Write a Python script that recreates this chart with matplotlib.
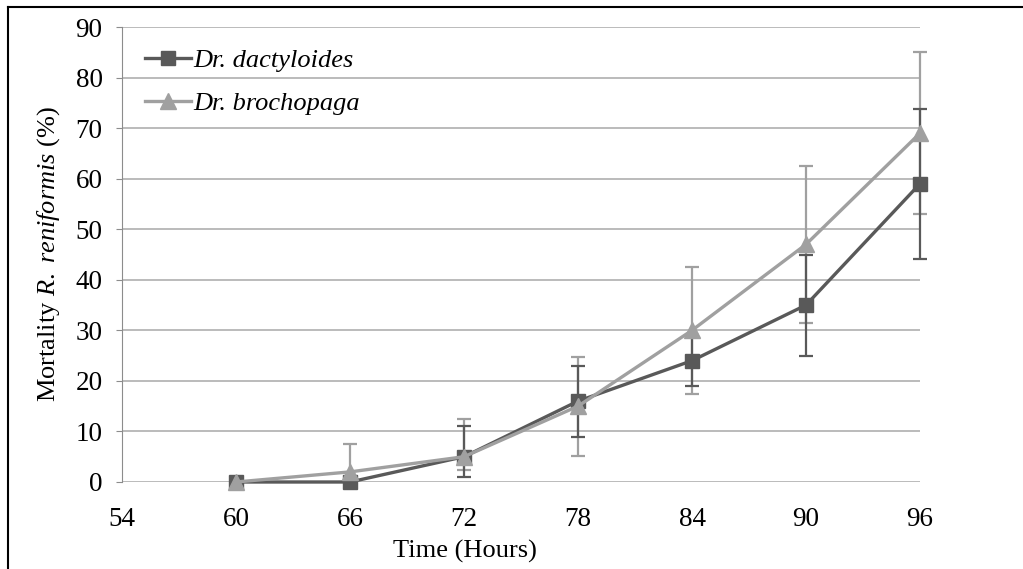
import matplotlib
matplotlib.use("Agg")
import matplotlib.pyplot as plt
from matplotlib.lines import Line2D
from matplotlib.patches import Rectangle

plt.rcParams['font.family'] = ['Liberation Serif', 'DejaVu Serif']
plt.rcParams['mathtext.fontset'] = 'custom'
plt.rcParams['mathtext.rm'] = 'Liberation Serif'
plt.rcParams['mathtext.it'] = 'Liberation Serif:italic'

hours = [60, 66, 72, 78, 84, 90, 96]
dact = [0, 0, 5, 16, 24, 35, 59]
dact_err_low = [0, 0, 4, 7, 5, 10, 14.8]
dact_err_high = [0, 0, 6, 7, 5, 10, 14.8]
broch = [0, 2, 5, 15, 30, 47, 69]
broch_err_low = [0, 5.5, 2.7, 9.8, 12.6, 15.6, 16]
broch_err_high = [0, 5.5, 7.5, 9.8, 12.6, 15.6, 16]
xticks = [54, 60, 66, 72, 78, 84, 90, 96]
yticks = [0, 10, 20, 30, 40, 50, 60, 70, 80, 90]

dark = '#595959'
light = '#A0A0A0'

fig = plt.figure(figsize=(10.23, 5.69), dpi=100)
ax = fig.add_axes([0.1193, 0.1529, 0.7800, 0.7996])

clip = Rectangle((-0.1, 0), 1.2, 1.2, transform=ax.transAxes, visible=False)
ax.add_patch(clip)

e1 = ax.errorbar(hours, dact, yerr=[dact_err_low, dact_err_high], fmt='none',
                 ecolor=dark, elinewidth=1.6, capsize=5, capthick=1.6, zorder=3)
e2 = ax.errorbar(hours, broch, yerr=[broch_err_low, broch_err_high], fmt='none',
                 ecolor=light, elinewidth=1.6, capsize=5, capthick=1.6, zorder=2.9)
for eb in (e1, e2):
    for art in eb.lines[1] + eb.lines[2]:
        art.set_clip_path(clip)
for c in ax.collections:
    c.set_clip_path(clip)

ax.plot(hours, dact, color=dark, lw=2.4, marker='s', markersize=10.5,
        label='Dr. dactyloides', zorder=4, clip_on=False)
ax.plot(hours, broch, color=light, lw=2.4, marker='^', markersize=11.5,
        label='Dr. brochopaga', zorder=5, clip_on=False)

ax.set_xlim(54, 96)
ax.set_ylim(0, 90)
ax.set_xticks(xticks)
ax.set_yticks(yticks)
ax.yaxis.grid(True, color='#A8A8A8', lw=1.1)
ax.set_axisbelow(True)
for s in ['top', 'right', 'bottom']:
    ax.spines[s].set_visible(False)
ax.spines['left'].set_color('#8C8C8C')
ax.tick_params(axis='y', length=4, color='#8C8C8C', labelsize=19.5, pad=10)
ax.tick_params(axis='x', length=0, labelsize=19.5, pad=18)

ax.set_xlabel('Time (Hours)', fontsize=19)
ax.xaxis.set_label_coords(0.43, -0.127)
ax.set_ylabel(r'Mortality $\mathit{R.\ reniformis}$ (%)', fontsize=19)
ax.yaxis.set_label_coords(-0.075, 0.5)

leg = ax.legend(loc='upper left', bbox_to_anchor=(0.0155, 0.975), frameon=False,
                prop={'family': 'Liberation Serif', 'style': 'italic', 'size': 19},
                handlelength=1.75, handletextpad=0.1, labelspacing=0.72,
                borderaxespad=0)

fig.add_artist(Line2D([8/1023, 8/1023], [0, 1 - 7/569], transform=fig.transFigure,
                      color='black', lw=1.5))
fig.add_artist(Line2D([8/1023, 1], [1 - 7/569, 1 - 7/569], transform=fig.transFigure,
                      color='black', lw=1.5))

fig.savefig('out.png', dpi=100)
